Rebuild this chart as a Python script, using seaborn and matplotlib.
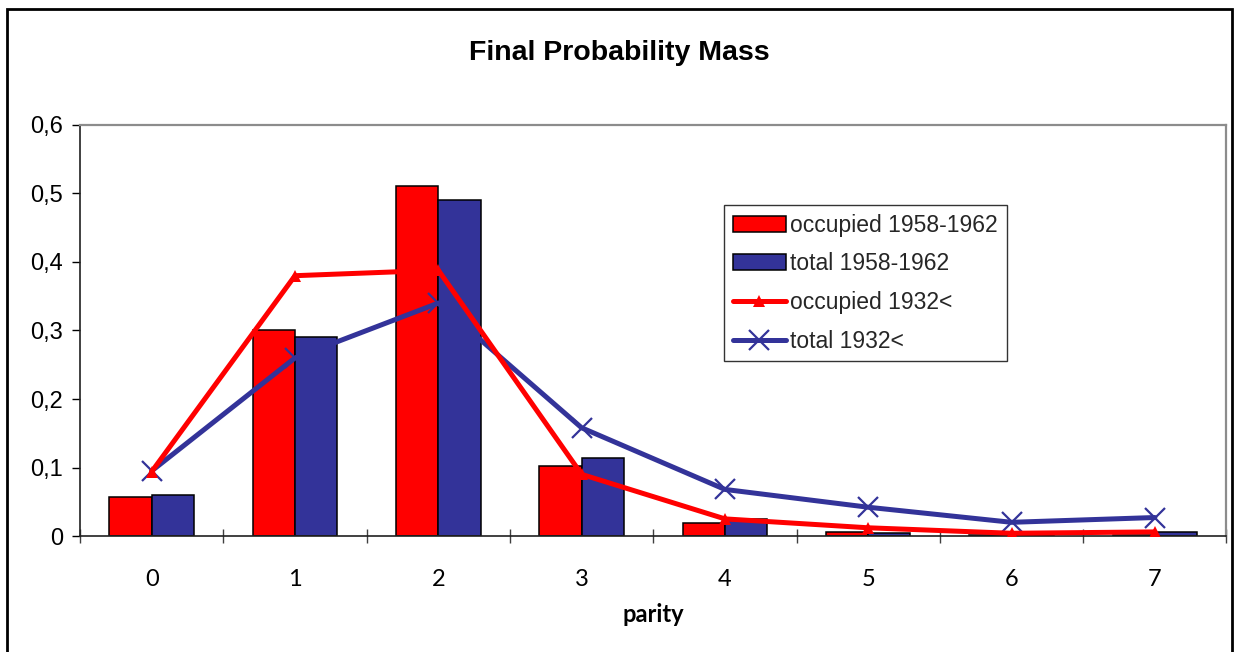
import numpy as np
import pandas as pd
import matplotlib
matplotlib.use("Agg")
import matplotlib.pyplot as plt
from matplotlib.patches import Rectangle, Patch
from matplotlib.lines import Line2D
from matplotlib.ticker import FixedLocator, FuncFormatter
import seaborn as sns

# Parity categories
parity = [0, 1, 2, 3, 4, 5, 6, 7]

# Bar series (cohort 1958-1962)
occupied_1958 = [0.057, 0.300, 0.511, 0.102, 0.019, 0.006, 0.002, 0.002]
total_1958 = [0.060, 0.290, 0.491, 0.114, 0.025, 0.005, 0.002, 0.006]

# Line series (cohort before 1932)
occupied_1932 = [0.094, 0.380, 0.388, 0.090, 0.025, 0.012, 0.004, 0.006]
total_1932 = [0.095, 0.260, 0.340, 0.158, 0.068, 0.042, 0.020, 0.027]

bar_labels = ["occupied 1958-1962", "total 1958-1962"]
line_labels = ["occupied 1932<", "total 1932<"]
y_ticks = [0, 0.1, 0.2, 0.3, 0.4, 0.5, 0.6]

RED = "#FF0000"
BLUE = "#333399"
LW = 3.6

sns.set_theme(style="white")
plt.rcParams["font.family"] = ["Liberation Sans", "DejaVu Sans"]

fig = plt.figure(figsize=(12.39, 6.52), dpi=100)
ax = fig.add_axes([0.0646, 0.1779, 0.9253, 0.6304])

bars = pd.DataFrame({
    "parity": parity * 2,
    "value": occupied_1958 + total_1958,
    "series": [bar_labels[0]] * len(parity) + [bar_labels[1]] * len(parity),
})

sns.barplot(data=bars, x="parity", y="value", hue="series",
            palette=[RED, BLUE], width=0.59, gap=0,
            edgecolor="black", linewidth=1.1, saturation=1,
            legend=False, ax=ax, zorder=2)

pos = np.arange(len(parity))
sns.lineplot(x=pos, y=occupied_1932, color=RED, linewidth=LW,
             marker="^", markersize=8, markeredgewidth=0,
             ax=ax, zorder=4, legend=False)
sns.lineplot(x=pos, y=total_1932, color=BLUE, linewidth=LW,
             marker="x", markersize=15, markeredgewidth=1.6,
             markeredgecolor=BLUE, ax=ax, zorder=3, legend=False)

ax.set_xlim(-0.5, len(parity) - 0.5)
ax.set_ylim(0, 0.6)

# y axis with comma decimals
ax.yaxis.set_major_locator(FixedLocator(y_ticks))
ax.yaxis.set_major_formatter(FuncFormatter(
    lambda v, _: "0" if v == 0 else f"{v:.1f}".replace(".", ",")))
ax.tick_params(axis="y", which="major", direction="out", length=6,
               width=1, color="black", labelsize=17, pad=6,
               left=True, labelcolor="black")

# x axis: labels at centres, ticks at category boundaries
ax.set_xticks(pos)
ax.set_xticklabels([str(p) for p in parity], fontfamily="Lato",
                   fontsize=17, color="black")
ax.tick_params(axis="x", which="major", length=0, pad=24)
ax.set_xticks(np.arange(-0.5, len(parity) + 0.5, 1), minor=True)
ax.tick_params(axis="x", which="minor", direction="inout", length=10,
               width=1, color="#404040", bottom=True)

ax.set_xlabel("parity", fontfamily="Lato", fontweight="bold",
              fontsize=17, color="black", labelpad=9)
ax.set_ylabel("")

for side in ("left", "bottom"):
    ax.spines[side].set_color("#202020")
    ax.spines[side].set_linewidth(1.2)
for side in ("top", "right"):
    ax.spines[side].set_visible(True)
    ax.spines[side].set_color("#8c8c8c")
    ax.spines[side].set_linewidth(1.6)
ax.grid(False)

fig.text(0.5, 0.918, "Final Probability Mass", ha="center", va="center",
         fontsize=20.5, fontweight="bold", color="black")

handles = [
    Patch(facecolor=RED, edgecolor="black", linewidth=1.1),
    Patch(facecolor=BLUE, edgecolor="black", linewidth=1.1),
    Line2D([], [], color=RED, linewidth=LW, marker="^", markersize=8,
           markeredgewidth=0),
    Line2D([], [], color=BLUE, linewidth=LW, marker="x", markersize=15,
           markeredgewidth=1.6),
]
leg = ax.legend(handles, bar_labels + line_labels, loc="upper left",
                bbox_to_anchor=(0.562, 0.805), borderaxespad=0,
                fontsize=16.5, frameon=True, fancybox=False,
                handlelength=2.3, handletextpad=0.2, labelspacing=0.68,
                borderpad=0.38, edgecolor="black")
leg.get_frame().set_linewidth(1.0)
leg.set_zorder(5)

# outer chart border
fig.patches.append(Rectangle((7 / 1239, -0.02), 1225 / 1239, 1 - 9 / 652 + 0.02,
                             transform=fig.transFigure, fill=False,
                             edgecolor="black", linewidth=2.0))

fig.savefig("out.png", dpi=100)
